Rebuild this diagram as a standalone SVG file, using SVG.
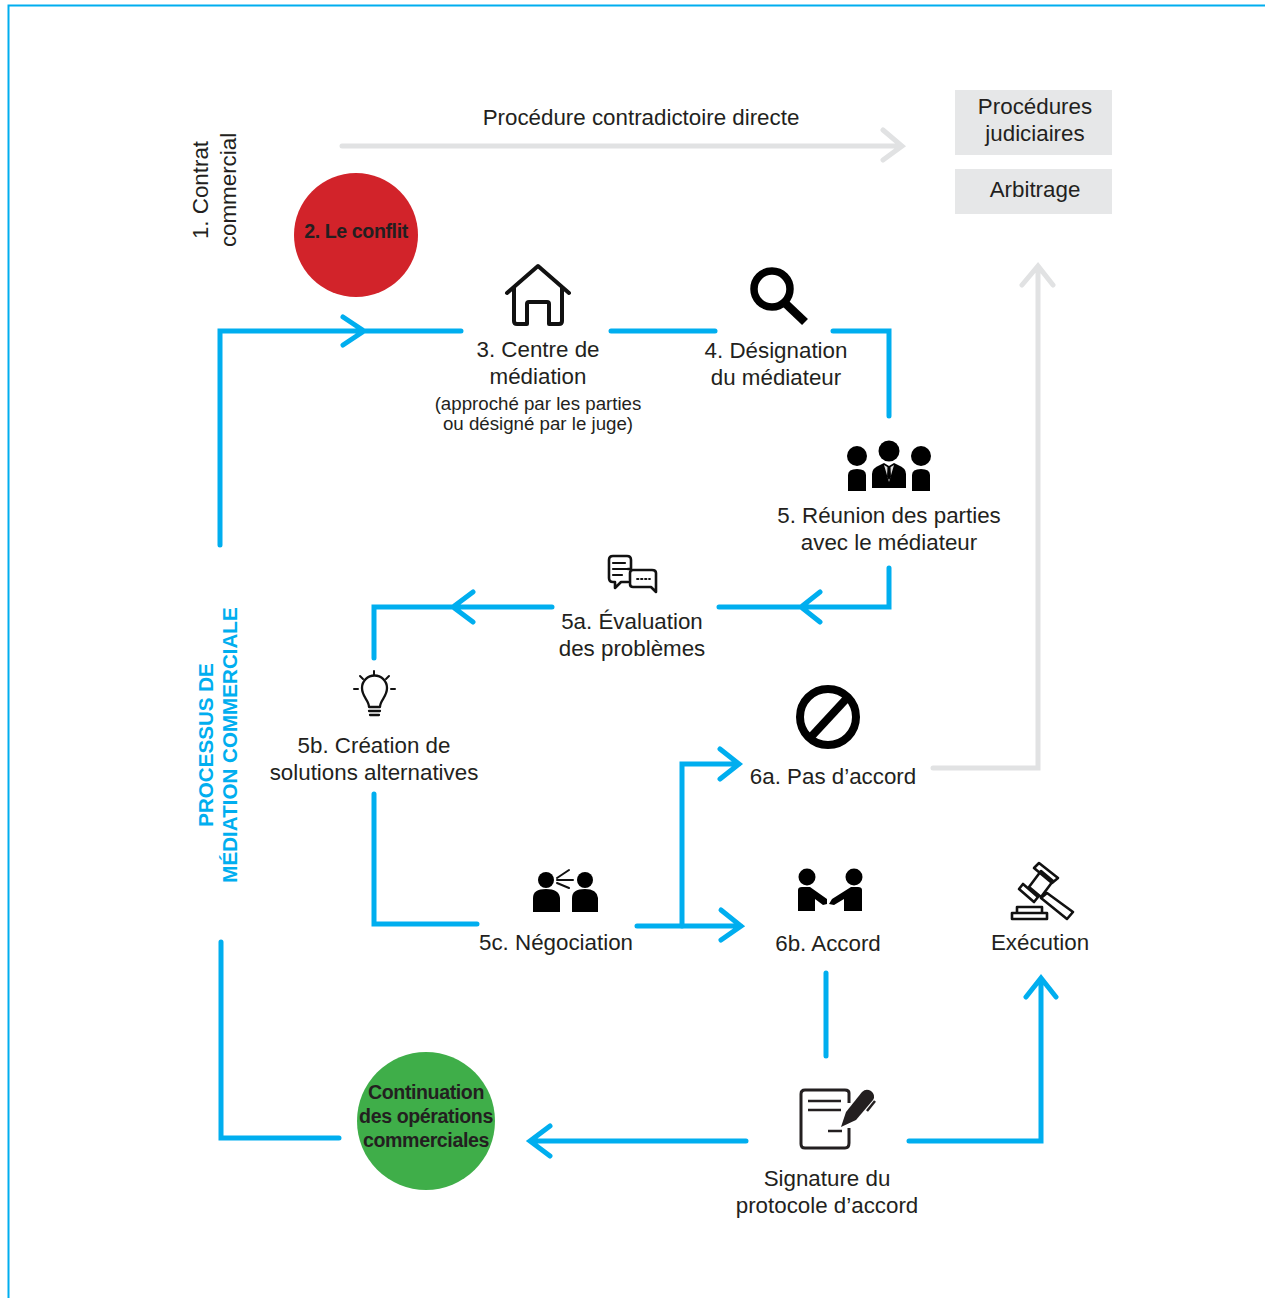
<svg xmlns="http://www.w3.org/2000/svg" width="1265" height="1298" viewBox="0 0 1265 1298">
<style>
text{font-family:"Liberation Sans",Arial,sans-serif;font-size:22.35px;fill:#231f20;text-anchor:middle}
.sm{font-size:18.7px}
.bold{font-weight:bold;font-size:19.6px;letter-spacing:-.4px}
.blue{font-weight:bold;font-size:20.6px;fill:#00aeef}
.c{fill:none;stroke:#00aeef;stroke-width:5;stroke-linecap:round;stroke-linejoin:miter}
.g{fill:none;stroke:#e1e2e3;stroke-width:5;stroke-linecap:round;stroke-linejoin:miter}
.k{fill:#000}
.o{fill:none;stroke:#111;stroke-linecap:round;stroke-linejoin:round}
</style>
<rect width="1265" height="1298" fill="#fff"/>
<path d="M8.500 1298V5.500H1265" fill="none" stroke="#00aeef" stroke-width="2"/>
<g id="connectors">
<path class="g" d="M342 146H900M883 130L902 146L883 160"/>
<path class="g" d="M933 768H1038V266M1022 285L1038 266L1053 285"/>
<path class="c" d="M220 545V331H461M343 317L364 331L343 345"/>
<path class="c" d="M611 331H715"/>
<path class="c" d="M833 331H889V416"/>
<path class="c" d="M889 568V607H719M820 592L801 607L820 622"/>
<path class="c" d="M552 607H374V658M473 592L453 607L473 622"/>
<path class="c" d="M374 794V924H477"/>
<path class="c" d="M637 926H741M721 910L741 926L721 940"/>
<path class="c" d="M682 926V764H739M720 749L739 764L720 779"/>
<path class="c" d="M826 973V1056"/>
<path class="c" d="M746 1141H531M550 1126L530 1141L550 1156"/>
<path class="c" d="M909 1141H1041V979M1026 997L1041 978L1056 997"/>
<path class="c" d="M221 942V1138H339"/>
</g>
<g id="n-title"><text x="641" y="125">Procédure contradictoire directe</text></g>
<g id="n-judiciaires"><rect x="955" y="90" width="157" height="65" fill="#e6e7e8"/><text x="1035" y="114">Procédures</text><text x="1035" y="141">judiciaires</text></g>
<g id="n-arbitrage"><rect x="955" y="169" width="157" height="45" fill="#e6e7e8"/><text x="1035" y="197">Arbitrage</text></g>
<g id="n-contrat"><text transform="translate(208,190) rotate(-90)">1. Contrat</text><text transform="translate(236,190) rotate(-90)">commercial</text></g>
<g id="n-conflit"><circle cx="356" cy="235" r="62" fill="#d2232a"/><text class="bold" x="356" y="238">2. Le conflit</text></g>
<g id="n-centre">
<path class="o" stroke-width="4" d="M507 293L538 266L569 293M514 288V321Q514 324 517 324H527V304Q527 302 529 302H547Q549 302 549 304V324H559Q562 324 562 321V288"/>
<text x="538" y="357">3. Centre de</text><text x="538" y="384">médiation</text>
<text class="sm" x="538" y="410">(approché par les parties</text><text class="sm" x="538" y="430">ou désigné par le juge)</text>
</g>
<g id="n-designation">
<circle cx="772" cy="289" r="18" fill="none" stroke="#000" stroke-width="7.500"/><path d="M785 303L805 322" stroke="#000" stroke-width="8.500" fill="none"/>
<text x="776" y="358">4. Désignation</text><text x="776" y="385">du médiateur</text>
</g>
<g id="n-reunion">
<circle class="k" cx="857" cy="456" r="10"/><path class="k" d="M848 491V475Q848 469 857 469Q866 469 866 475V491Z"/>
<circle class="k" cx="889" cy="451" r="10.500"/><path class="k" d="M872 488V474Q872 468 880 465L884 463L889 466L894 463L898 465Q906 468 906 474V488Z"/><path d="M884 465L889 482L894 465L889 468Z" fill="#ddd"/><path class="k" d="M887.500 467H890.500L891 477L889 480L887 477Z"/>
<circle class="k" cx="921" cy="456" r="10"/><path class="k" d="M912 491V475Q912 469 921 469Q930 469 930 475V491Z"/>
<text x="889" y="523">5. Réunion des parties</text><text x="889" y="550">avec le médiateur</text>
</g>
<g id="n-evaluation">
<path class="o" stroke-width="2.600" d="M628 569H631V560Q631 556 627 556H613Q609 556 609 560V578Q609 582 613 582H615V588L621 582H628"/>
<path class="o" stroke="#555" stroke-width="2.200" d="M613 563H625M613 569H628M613 575H622"/>
<path class="o" stroke-width="2.600" d="M633 570H652Q656 570 656 573V586V592L651 587H633Q630 587 630 584V573Q630 570 633 570Z"/>
<path class="o" stroke="#666" stroke-width="1.800" stroke-dasharray="1.500 2.500" d="M637 579H650"/>
<text x="632" y="629">5a. Évaluation</text><text x="632" y="656">des problèmes</text>
</g>
<g id="n-creation">
<path class="o" stroke="#333" stroke-width="2.300" d="M369 707C369 700 362 697 362 688A12 12 0 0 1 387 688C387 697 380 700 380 707ZM369 711H380M370 715H379"/>
<path class="o" stroke="#555" stroke-width="2" d="M374 671V675M360 676L363 679M389 676L386 679M354 689H358M391 689H395"/>
<text x="374" y="753">5b. Création de</text><text x="374" y="780">solutions alternatives</text>
</g>
<g id="n-negociation">
<circle class="k" cx="546" cy="880" r="8"/><path class="k" d="M533 912V898Q533 889 546 889Q559 889 560 898V912Z"/>
<circle class="k" cx="585" cy="880" r="8"/><path class="k" d="M572 912V898Q572 889 585 889Q597 889 598 898V912Z"/>
<path class="o" stroke="#333" stroke-width="2" d="M557 878L569 870M557 880H573M557 883L569 888"/>
<text x="556" y="950">5c. Négociation</text>
</g>
<g id="n-pasaccord">
<circle cx="828" cy="717" r="28" fill="none" stroke="#000" stroke-width="8"/><path d="M810 738L848 697" stroke="#000" stroke-width="8" fill="none"/>
<text x="833" y="784">6a. Pas d’accord</text>
</g>
<g id="n-accord">
<circle class="k" cx="807" cy="877" r="8.500"/><circle class="k" cx="854" cy="877" r="8.500"/>
<path class="k" d="M798 911V890Q798 887 802 887H810L827 899V904L823 905L815 899V911Z"/>
<path class="k" d="M862 911V890Q862 887 858 887H851L832 899L829 904L834 905L844 899V911Z"/>
<text x="828" y="951">6b. Accord</text>
</g>
<g id="n-execution">
<path class="o" stroke="#333" stroke-width="2.600" d="M1029 887L1041 871L1053 881L1041 897ZM1023 884L1038 897L1034 902L1019 889ZM1034 868L1039 863L1058 878L1052 883ZM1047 893L1073 912L1067 919L1041 898Z"/>
<path class="o" stroke="#333" stroke-width="2.600" d="M1017 907H1042V913H1017ZM1012 913H1047V919H1012Z"/>
<text x="1040" y="950">Exécution</text>
</g>
<g id="n-continuation"><circle cx="426" cy="1121" r="69" fill="#3fae49"/>
<text class="bold" x="426" y="1099">Continuation</text><text class="bold" x="426" y="1123">des opérations</text><text class="bold" x="426" y="1147">commerciales</text></g>
<g id="n-signature">
<path d="M849 1128V1143Q849 1148 845 1148H805Q801 1148 801 1144V1094Q801 1090 805 1090H845Q849 1090 849 1093V1103" fill="none" stroke="#231f20" stroke-width="3"/>
<path d="M808 1101H841M808 1110H841M828 1131H842" stroke="#231f20" stroke-width="2.500" fill="none"/>
<path d="M841 1127L846 1112L862 1092Q866 1088 871 1091Q876 1095 873 1100L856 1120Z" fill="#231f20"/>
<path d="M867 1111L875 1101" stroke="#231f20" stroke-width="2.500" fill="none"/>
<text x="827" y="1186">Signature du</text><text x="827" y="1213">protocole d’accord</text>
</g>
<g id="n-processus"><text class="blue" transform="translate(213,745) rotate(-90)">PROCESSUS DE</text><text class="blue" transform="translate(237,745) rotate(-90)">MÉDIATION COMMERCIALE</text></g>
</svg>
